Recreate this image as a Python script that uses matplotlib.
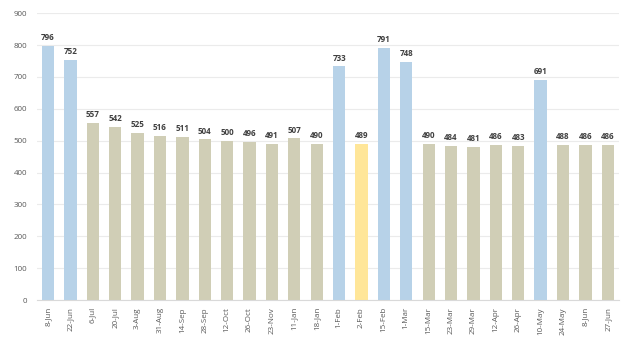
import numpy as np
import matplotlib
matplotlib.use("Agg")
import matplotlib.pyplot as plt

BLUE = "#B7D2E8"
TAN = "#D0CEB6"
YELLOW = "#FFE699"

dates = ["8-Jun", "22-Jun", "6-Jul", "20-Jul", "3-Aug", "31-Aug", "14-Sep", "28-Sep",
         "12-Oct", "26-Oct", "23-Nov", "11-Jan", "18-Jan", "1-Feb", "2-Feb", "15-Feb",
         "1-Mar", "15-Mar", "23-Mar", "29-Mar", "12-Apr", "26-Apr", "10-May", "24-May",
         "8-Jun", "27-Jun"]
values = [796, 752, 557, 542, 525, 516, 511, 504, 500, 496, 491, 507, 490, 733, 489,
          791, 748, 490, 484, 481, 486, 483, 691, 488, 486, 486]
groups = ["peak", "peak", "base", "base", "base", "base", "base", "base", "base", "base",
          "base", "base", "base", "peak", "flag", "peak", "peak", "base", "base", "base",
          "base", "base", "peak", "base", "base", "base"]

color_map = {"peak": BLUE, "base": TAN, "flag": YELLOW}

plt.rcParams["font.family"] = ["Open Sans", "DejaVu Sans"]

fig = plt.figure(figsize=(6.24, 3.45), dpi=100, facecolor="white")
ax = fig.add_axes([0.059, 0.130, 0.933, 0.832])

x = np.arange(len(dates))
ax.bar(x, values, width=0.55, color=[color_map[g] for g in groups], zorder=2)

for xi, v in zip(x, values):
    ax.text(xi, v + 12, str(v), ha="center", va="bottom", fontsize=5.8,
            fontweight="bold", color="#404040")

ax.set_xlim(-0.5, len(dates) - 0.5)
ax.set_ylim(0, 900)
ax.set_yticks(range(0, 901, 100))
ax.grid(axis="y", color="#EBEBEB", lw=0.8, zorder=0)
ax.set_xticks(x)
ax.set_xticklabels(dates, rotation=90, fontsize=5.8, color="#595959")
ax.tick_params(axis="y", labelsize=5.8, labelcolor="#595959", length=0, pad=7)
ax.tick_params(axis="x", length=0, pad=5)
for s in ["top", "right", "left"]:
    ax.spines[s].set_visible(False)
ax.spines["bottom"].set_color("#D9D9D9")

fig.savefig("out.png", dpi=100, facecolor="white")
